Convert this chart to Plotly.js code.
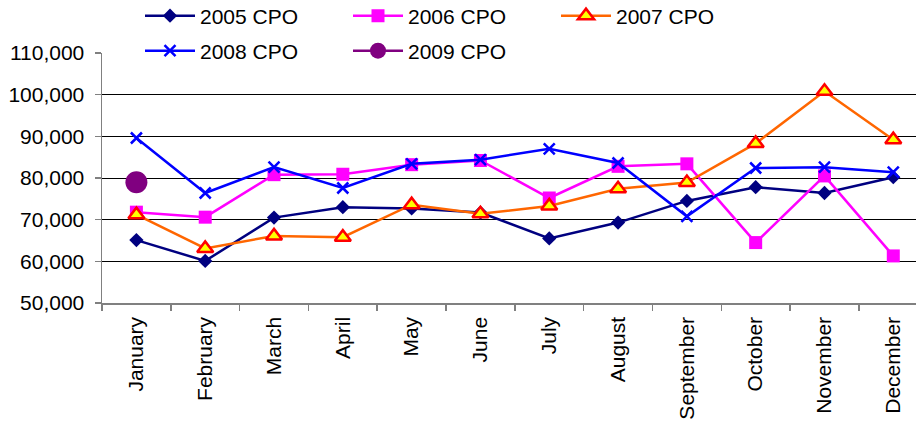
<!DOCTYPE html>
<html>
<head>
<meta charset="utf-8">
<script src="https://cdn.plot.ly/plotly-3.0.1.min.js"></script>
<style>html,body{margin:0;padding:0;background:#fff;overflow:hidden}#chart{width:916px;height:423px}</style>
</head>
<body>
<div id="chart"></div>
<script>
const months = ["January","February","March","April","May","June","July","August","September","October","November","December"];
const cpo2005 = [65100, 60100, 70500, 73000, 72700, 71700, 65500, 69300, 74500, 77800, 76400, 80200];
const cpo2006 = [71800, 70600, 80800, 80900, 83200, 84200, 75200, 82800, 83400, 64500, 80500, 61300];
const cpo2007 = [71200, 63100, 66100, 65800, 73600, 71400, 73300, 77400, 78900, 88300, 100800, 89200];
const cpo2008 = [89600, 76400, 82600, 77600, 83400, 84400, 87000, 83600, 70800, 82400, 82600, 81400];
const cpo2009 = [79000];
const yTicks = [50000, 60000, 70000, 80000, 90000, 100000, 110000];

const FONT = "Arial, 'Liberation Sans', sans-serif";

const traces = [
  {name: "2005 CPO", x: months, y: cpo2005, mode: "lines+markers", legend: "legend",
   line: {color: "#000080", width: 2.5}, marker: {symbol: "diamond", size: 11, color: "#000080"}},
  {name: "2006 CPO", x: months, y: cpo2006, mode: "lines+markers", legend: "legend",
   line: {color: "#FF00FF", width: 2.5}, marker: {symbol: "square", size: 13, color: "#FF00FF"}},
  {name: "2007 CPO", x: months, y: cpo2007, mode: "lines+markers", legend: "legend",
   line: {color: "#FF6600", width: 2.5}, marker: {symbol: "triangle-up", size: 14, color: "#FFFF00", line: {color: "#FF0000", width: 2.5}}},
  {name: "2008 CPO", x: months, y: cpo2008, mode: "lines+markers", legend: "legend2",
   line: {color: "#0000FF", width: 2.5}, marker: {symbol: "x-thin-open", size: 11, color: "#0000FF", line: {color: "#0000FF", width: 2.5}}},
  {name: "2009 CPO", x: months.slice(0, cpo2009.length), y: cpo2009, mode: "lines+markers", legend: "legend2",
   line: {color: "#800080", width: 2.5}, marker: {symbol: "circle", size: 22, color: "#800080"}}
];

const legendCommon = {
  orientation: "h", xref: "container", yref: "container", xanchor: "left", yanchor: "middle",
  bgcolor: "rgba(0,0,0,0)", borderwidth: 0, entrywidth: 143, entrywidthmode: "pixels",
  itemwidth: 50, font: {family: FONT, size: 21, color: "#000"}, itemclick: false
};

const layout = {
  width: 916, height: 423,
  paper_bgcolor: "#ffffff", plot_bgcolor: "#ffffff",
  margin: {l: 102, r: 0, t: 53, b: 120, pad: 0, autoexpand: false},
  font: {family: FONT, size: 21, color: "#000"},
  showlegend: true,
  legend: Object.assign({}, legendCommon, {x: 140 / 916, y: 1 - 16 / 423}),
  legend2: Object.assign({}, legendCommon, {x: 140 / 916, y: 1 - 51 / 423}),
  xaxis: {
    type: "category", range: [-0.5, 11.33], showgrid: false, zeroline: false,
    showline: true, linecolor: "#808080", linewidth: 1.5,
    ticks: "outside", ticklen: 6, tickcolor: "#808080", tickwidth: 1.5, tickson: "boundaries",
    tickangle: -90, tickfont: {family: FONT, size: 21, color: "#000"}, ticklabelstandoff: 4,
    fixedrange: true
  },
  yaxis: {
    range: [50000, 110000], tickvals: yTicks, tickformat: ",d",
    showgrid: true, gridcolor: "#000000", gridwidth: 1, zeroline: false,
    showline: true, linecolor: "#808080", linewidth: 1.5,
    ticks: "outside", ticklen: 6, tickcolor: "#808080", tickwidth: 1.5,
    tickfont: {family: FONT, size: 21, color: "#000"}, ticklabelstandoff: 6,
    fixedrange: true
  }
};

Plotly.newPlot("chart", traces, layout, {displayModeBar: false, staticPlot: true});
</script>
</body>
</html>
